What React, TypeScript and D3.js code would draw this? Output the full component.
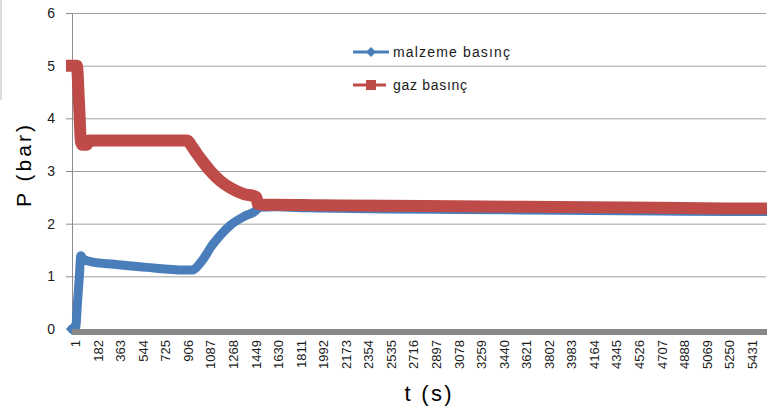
import React from "react";
import * as d3 from "d3";

// Time (s) and pressure (bar) readings for the two series
const malzemeT = [1, 30, 45, 60, 72, 90, 170, 340, 600, 900, 966, 1000, 1040, 1080, 1111, 1192, 1272, 1385, 1465, 1490, 1510, 1630, 1910, 2535, 3078, 3621, 4164, 4707, 5250, 5570];
const malzemeP = [0, 0.02, 0.5, 1.0, 1.39, 1.33, 1.27, 1.23, 1.17, 1.12, 1.12, 1.17, 1.28, 1.42, 1.54, 1.78, 1.97, 2.14, 2.23, 2.28, 2.31, 2.32, 2.30, 2.28, 2.27, 2.26, 2.25, 2.24, 2.23, 2.23];

const gazT = [1, 40, 57, 73, 82, 120, 140, 500, 926, 960, 1006, 1050, 1111, 1192, 1272, 1385, 1465, 1480, 1495, 1550, 1630, 2000, 2535, 3078, 3621, 4164, 4707, 5250, 5570];
const gazP = [5.0, 5.0, 4.3, 3.55, 3.5, 3.5, 3.58, 3.58, 3.58, 3.48, 3.32, 3.18, 3.0, 2.81, 2.68, 2.56, 2.52, 2.5, 2.37, 2.36, 2.36, 2.35, 2.34, 2.33, 2.32, 2.31, 2.30, 2.29, 2.29];

// Category labels along the time axis
const xTickLabels = [1, 182, 363, 544, 725, 906, 1087, 1268, 1449, 1630, 1811, 1992, 2173, 2354, 2535, 2716, 2897, 3078, 3259, 3440, 3621, 3802, 3983, 4164, 4345, 4526, 4707, 4888, 5069, 5250, 5431];
const yTickLabels = [0, 1, 2, 3, 4, 5, 6];

const seriesNames = ["malzeme basınç", "gaz basınç"];

const W = 767;
const H = 412;
const BLUE = "#4A7EBB";
const RED = "#BE4B48";
const FONT = "'Liberation Sans', Arial, sans-serif";

export default function App() {
  const x = d3.scaleLinear().domain([1, 5571]).range([72, 766]);
  const y = d3.scaleLinear().domain([0, 6]).range([329, 13]);

  const line = d3
    .line<[number, number]>()
    .x((d) => x(d[0]))
    .y((d) => y(d[1]))
    .curve(d3.curveMonotoneX);

  const blueData: [number, number][] = malzemeT.map((t, i) => [t, malzemeP[i]]);
  const redData: [number, number][] = gazT.map((t, i) => [t, gazP[i]]);

  const diamond = (cx: number, cy: number, r: number) =>
    `M${cx},${cy - r}L${cx + r},${cy}L${cx},${cy + r}L${cx - r},${cy}Z`;

  return (
    <svg
      width={W}
      height={H}
      style={{ position: "absolute", left: 0, top: 0, background: "#fff" }}
      fontFamily={FONT}
    >
      <rect x={0} y={0} width={W} height={H} fill="#fff" />
      <line x1={1} x2={1} y1={0} y2={100} stroke="#dcdcdc" strokeWidth={2} />

      {/* horizontal gridlines */}
      {yTickLabels.slice(1).map((v) => (
        <line key={v} x1={72} x2={766} y1={y(v) + 0.5} y2={y(v) + 0.5} stroke="#a0a0a0" strokeWidth={1} />
      ))}

      {/* y axis with ticks */}
      <line x1={72.5} x2={72.5} y1={y(6)} y2={y(0)} stroke="#8c8c8c" strokeWidth={1} />
      {yTickLabels.map((v) => (
        <g key={v}>
          <line x1={66} x2={72} y1={y(v) + 0.5} y2={y(v) + 0.5} stroke="#8c8c8c" strokeWidth={1} />
          <text x={55} y={y(v)} dy="0.36em" textAnchor="end" fontSize={14} fill="#1a1a1a">
            {v}
          </text>
        </g>
      ))}

      {/* series: material pressure beneath, gas pressure on top */}
      <path
        d={line(blueData) || ""}
        fill="none"
        stroke={BLUE}
        strokeWidth={9}
        strokeLinecap="round"
        strokeLinejoin="round"
      />
      <path d={diamond(x(malzemeT[0]), y(malzemeP[0]), 6)} fill={BLUE} />
      <path
        d={line(redData) || ""}
        fill="none"
        stroke={RED}
        strokeWidth={12}
        strokeLinecap="square"
        strokeLinejoin="miter"
        strokeMiterlimit={2}
      />

      {/* x axis */}
      <rect x={72} y={329} width={W - 72} height={6} fill="#888888" />
      {xTickLabels.map((t) => (
        <text
          key={t}
          transform={`translate(${x(t) + 3.5},340) rotate(-90)`}
          dy="0.36em"
          textAnchor="end"
          fontSize={13}
          fill="#1a1a1a"
        >
          {t}
        </text>
      ))}

      {/* axis titles */}
      <text
        transform="translate(31,166) rotate(-90)"
        textAnchor="middle"
        fontSize={21}
        fill="#000"
        textLength={82}
        lengthAdjust="spacing"
      >
        P (bar)
      </text>
      <text x={428} y={401} textAnchor="middle" fontSize={22} fill="#000" textLength={47} lengthAdjust="spacing">
        t (s)
      </text>

      {/* legend */}
      <g>
        <line x1={353} x2={389} y1={52} y2={52} stroke={BLUE} strokeWidth={3} />
        <path d={diamond(371, 52, 5)} fill={BLUE} />
        <text x={393} y={52} dy="0.36em" fontSize={14} fill="#1a1a1a" textLength={117} lengthAdjust="spacing">
          {seriesNames[0]}
        </text>
        <line x1={353} x2={386} y1={85} y2={85} stroke={RED} strokeWidth={3} />
        <rect x={366} y={80} width={10} height={10} fill={RED} />
        <text x={393} y={85} dy="0.36em" fontSize={14} fill="#1a1a1a" textLength={74} lengthAdjust="spacing">
          {seriesNames[1]}
        </text>
      </g>
    </svg>
  );
}
